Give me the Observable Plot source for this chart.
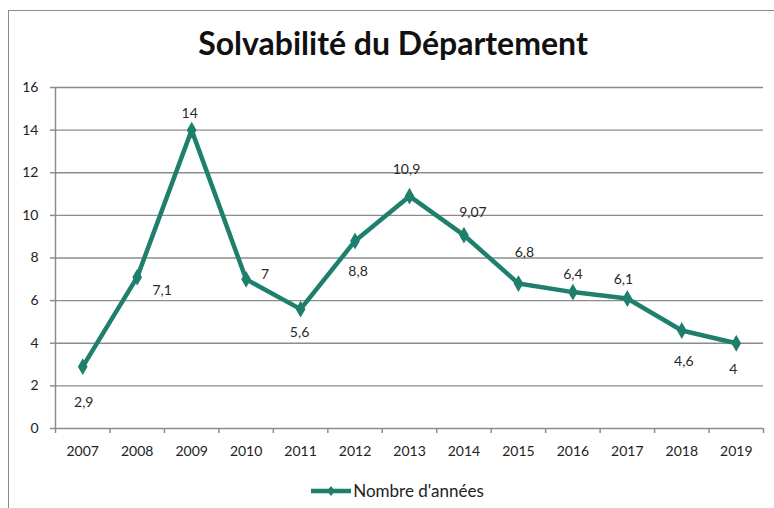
<!DOCTYPE html>
<html>
<head>
<meta charset="utf-8">
<script src="https://cdn.jsdelivr.net/npm/d3@7"></script>
<script src="https://cdn.jsdelivr.net/npm/@observablehq/plot@0.6"></script>
<style>
  html, body { margin: 0; padding: 0; background: #fff; overflow: hidden; }
  #wrap { position: relative; width: 774px; height: 508px; overflow: hidden; font-family: Lato, "Open Sans", sans-serif; }
  #frame { position: absolute; left: 8px; top: 10px; width: 900px; height: 700px; border: 1.5px solid #8a8a8a; box-sizing: border-box; }
  #title { position: absolute; left: 0; width: 786px; top: 23px; text-align: center; font-size: 32px; font-weight: 700; color: #111; }
  #chart { position: absolute; left: 0; top: 0; }
  #legend { position: absolute; left: 0; width: 794px; top: 480px; display: flex; justify-content: center; align-items: center; font-size: 17px; color: #222; }
  #legend span { margin-left: 1px; }
</style>
</head>
<body>
<div id="wrap">
  <div id="frame"></div>
  <div id="chart"></div>
  <div id="title">Solvabilité du Département</div>
  <div id="legend"></div>
</div>
<script>
// Data
const years = [2007, 2008, 2009, 2010, 2011, 2012, 2013, 2014, 2015, 2016, 2017, 2018, 2019];
const values = [2.9, 7.1, 14, 7, 5.6, 8.8, 10.9, 9.07, 6.8, 6.4, 6.1, 4.6, 4];
const seriesName = "Nombre d'années";
const yTicks = [0, 2, 4, 6, 8, 10, 12, 14, 16];

// Styles: data-label offsets in pixels (dx, dy) per point
const labelDx = [1, 25, -2, 19, -1, 3, -3, 9, 6, 0, -4, 2, -3];
const labelDy = [36, 13, -17, -5, 23, 31, -27, -23, -31, -18, -19, 31, 26];

const color = "#1f7f6d";
const grid = "#8c8c8c";
const data = years.map((y, i) => ({year: y, value: values[i], i}));
const fmt = v => String(v).replace(".", ",");
const boundaries = years.map(y => y - 0.5).concat([years[years.length - 1] + 0.5]);

const labelMarks = data.map(d => Plot.text([d], {
  x: "year", y: "value", text: d => fmt(d.value),
  dx: labelDx[d.i], dy: labelDy[d.i], fontSize: 14, fill: "#2a2a2a"
}));

const chart = Plot.plot({
  width: 774,
  height: 508,
  marginLeft: 55,
  marginRight: 11,
  marginTop: 87,
  marginBottom: 80,
  style: {fontFamily: "Lato, 'Open Sans', sans-serif", fontSize: "14px", color: "#222", background: "transparent"},
  x: {type: "linear", domain: [boundaries[0], boundaries[boundaries.length - 1]]},
  y: {domain: [0, 16]},
  marks: [
    Plot.ruleY(yTicks.filter(t => t > 0), {x1: boundaries[0], x2: boundaries[boundaries.length - 1], stroke: grid, strokeWidth: 1.3}),
    Plot.ruleY([0], {x1: boundaries[0], x2: boundaries[boundaries.length - 1], stroke: grid, strokeWidth: 1.5}),
    Plot.ruleX([boundaries[0]], {y1: 0, y2: 16, stroke: grid, strokeWidth: 1.5}),
    Plot.axisY({ticks: yTicks, tickSize: 5, tickPadding: 12, stroke: grid, strokeWidth: 1.5, strokeOpacity: 1, label: null, fontSize: 14, fill: "#222"}),
    Plot.axisX({ticks: boundaries, tickSize: 5, tickFormat: () => "", stroke: grid, strokeWidth: 1.5, strokeOpacity: 1, label: null}),
    Plot.axisX({ticks: years, tickSize: 0, tickPadding: 18, tickFormat: d => String(d), label: null, fontSize: 14, fill: "#222"}),
    Plot.line(data, {x: "year", y: "value", stroke: color, strokeWidth: 4.5, strokeLinejoin: "miter"}),
    Plot.dot(data, {x: "year", y: "value", symbol: "diamond", r: 4.2, fill: color, stroke: color}),
    ...labelMarks
  ]
});
document.getElementById("chart").appendChild(chart);

// Legend
const legend = document.getElementById("legend");
const ns = "http://www.w3.org/2000/svg";
const sw = document.createElementNS(ns, "svg");
sw.setAttribute("width", 42); sw.setAttribute("height", 16);
const ln = document.createElementNS(ns, "line");
ln.setAttribute("x1", 1); ln.setAttribute("x2", 41); ln.setAttribute("y1", 8); ln.setAttribute("y2", 8);
ln.setAttribute("stroke", color); ln.setAttribute("stroke-width", 4.5);
sw.appendChild(ln);
const dm = document.createElementNS(ns, "path");
dm.setAttribute("d", "M21,3 L25,8 L21,13 L17,8 Z");
dm.setAttribute("fill", color);
sw.appendChild(dm);
legend.appendChild(sw);
const sp = document.createElement("span");
sp.textContent = seriesName;
legend.appendChild(sp);
</script>
</body>
</html>
